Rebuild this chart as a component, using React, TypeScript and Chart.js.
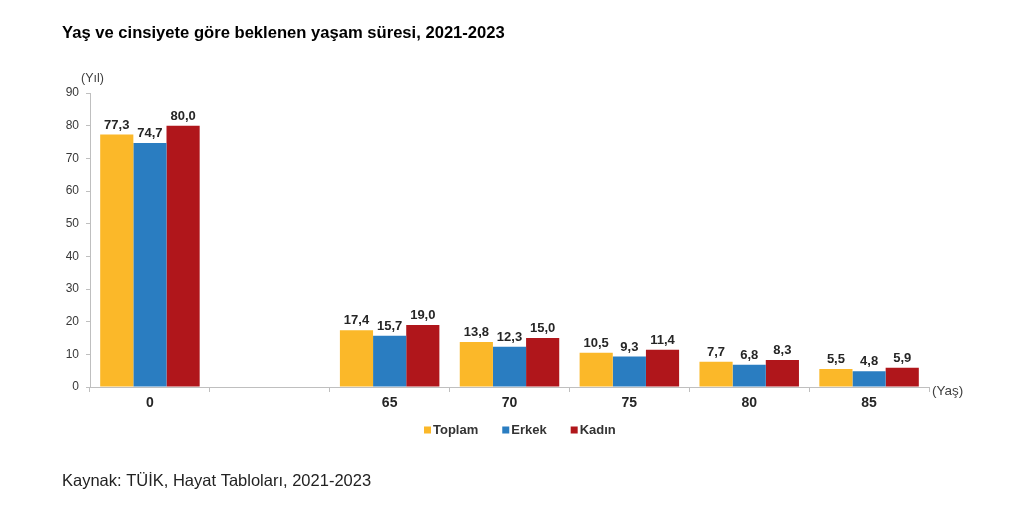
import React, { useEffect, useRef } from "react";
import { Chart, registerables } from "chart.js";
Chart.register(...registerables);

const categories = ["0", "", "65", "70", "75", "80", "85"];
const toplam = [77.3, null, 17.4, 13.8, 10.5, 7.7, 5.5];
const erkek = [74.7, null, 15.7, 12.3, 9.3, 6.8, 4.8];
const kadin = [80.0, null, 19.0, 15.0, 11.4, 8.3, 5.9];
const seriesNames = ["Toplam", "Erkek", "Kadın"];
const colors = ["#FBB829", "#2A7DC1", "#B0161B"];
const titleText = "Yaş ve cinsiyete göre beklenen yaşam süresi, 2021-2023";
const sourceText = "Kaynak: TÜİK, Hayat Tabloları, 2021-2023";

const FONT = "'Liberation Sans', Arial, sans-serif";

const textPlugin = {
  id: "texts",
  afterDraw(chart: any) {
    const ctx = chart.ctx;
    const ca = chart.chartArea;
    ctx.save();
    // data labels
    ctx.font = `bold 13px ${FONT}`;
    ctx.fillStyle = "#262626";
    ctx.textAlign = "center";
    ctx.textBaseline = "bottom";
    chart.data.datasets.forEach((ds: any, i: number) => {
      const meta = chart.getDatasetMeta(i);
      meta.data.forEach((bar: any, j: number) => {
        const v = ds.data[j];
        if (v == null) return;
        ctx.fillText(v.toFixed(1).replace(".", ","), bar.x, bar.y - 3);
      });
    });
    // title
    ctx.textAlign = "left";
    ctx.textBaseline = "alphabetic";
    ctx.fillStyle = "#000";
    ctx.font = `bold 16.6px ${FONT}`;
    ctx.fillText(titleText, 62, 38);
    // source
    ctx.font = `16.5px ${FONT}`;
    ctx.fillStyle = "#222";
    ctx.fillText(sourceText, 62, 486);
    // axis unit labels
    ctx.font = `12.5px ${FONT}`;
    ctx.fillStyle = "#404040";
    ctx.textBaseline = "middle";
    ctx.fillText("(Yıl)", ca.left - 9, ca.top - 14);
    ctx.font = `13.5px ${FONT}`;
    ctx.fillText("(Yaş)", ca.right + 3, ca.bottom + 4);
    // legend
    ctx.font = `bold 13px ${FONT}`;
    const legendY = ca.bottom + 43;
    let x = 424;
    seriesNames.forEach((name, i) => {
      ctx.fillStyle = colors[i];
      ctx.fillRect(x, legendY - 3.5, 7, 7);
      ctx.fillStyle = "#333";
      ctx.fillText(name, x + 9, legendY);
      x += 9 + ctx.measureText(name).width + 24;
    });
    ctx.restore();
  },
};

export default function App() {
  const ref = useRef<HTMLCanvasElement>(null);
  useEffect(() => {
    const chart = new Chart(ref.current!, {
      type: "bar",
      data: {
        labels: categories,
        datasets: [toplam, erkek, kadin].map((d, i) => ({
          label: seriesNames[i],
          data: d,
          backgroundColor: colors[i],
          categoryPercentage: 0.83,
          barPercentage: 1,
        })),
      },
      options: {
        animation: false,
        responsive: false,
        devicePixelRatio: 1,
        layout: { padding: { top: 93, right: 95, bottom: 90, left: 0 } },
        plugins: {
          tooltip: { enabled: false },
          legend: { display: false },
        },
        scales: {
          x: {
            grid: { drawOnChartArea: false, color: "#bfbfbf", tickLength: 5, offset: true },
            border: { color: "#bfbfbf" },
            ticks: { font: { family: FONT, size: 14, weight: "bold" }, color: "#262626", padding: 3 },
            afterFit: (s: any) => { s.height = 29; },
          },
          y: {
            min: 0,
            max: 90,
            ticks: { stepSize: 10, font: { family: FONT, size: 12 }, color: "#383838", padding: 7 },
            grid: { drawOnChartArea: false, color: "#bfbfbf", tickLength: 4 },
            border: { color: "#bfbfbf" },
            afterFit: (s: any) => { s.width = 90; },
          },
        },
      },
      plugins: [textPlugin],
    } as any);
    return () => chart.destroy();
  }, []);
  return (
    <div style={{ position: "absolute", left: 0, top: 0, width: 1024, height: 506 }}>
      <canvas ref={ref} width={1024} height={506} style={{ width: 1024, height: 506 }} />
    </div>
  );
}
